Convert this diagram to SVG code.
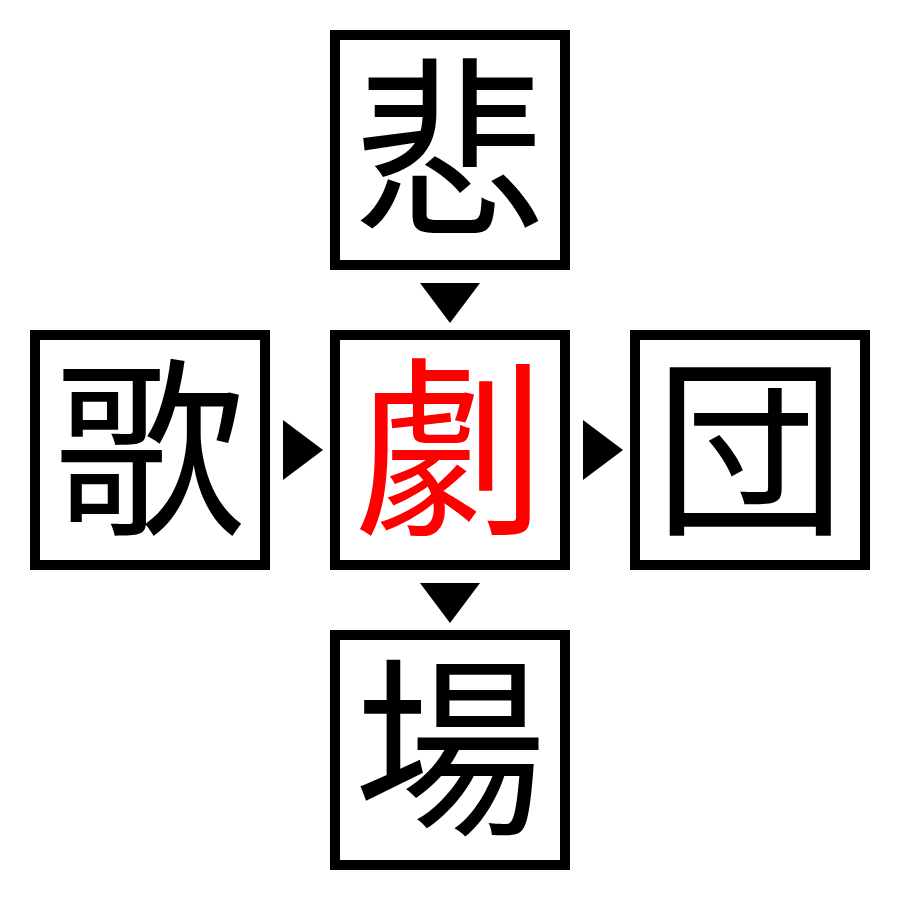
<svg xmlns="http://www.w3.org/2000/svg" width="900" height="900" viewBox="0 0 900 900">
<style>
.box{fill:#fff;stroke:#000;stroke-width:10}
.ch{font-family:"Liberation Serif","Noto Sans CJK JP",serif;font-size:192px;text-anchor:middle;dominant-baseline:central;fill:#000}
.red{fill:#ff0000}
.arr{fill:#000}
</style>
<rect width="900" height="900" fill="#fff"/>
<g id="connectors">
<polygon class="arr" points="420,283 480,283 450,323"/>
<polygon class="arr" points="283,420 283,480 323,450"/>
<polygon class="arr" points="583,420 583,480 623,450"/>
<polygon class="arr" points="420,583 480,583 450,623"/>
</g>
<g id="node-top"><rect class="box" x="335" y="35" width="230" height="230"/><text class="ch" x="450" y="155">悲</text></g>
<g id="node-left"><rect class="box" x="35" y="335" width="230" height="230"/><text class="ch" x="150" y="455">歌</text></g>
<g id="node-center"><rect class="box" x="335" y="335" width="230" height="230"/><text class="ch red" x="450" y="455">劇</text></g>
<g id="node-right"><rect class="box" x="635" y="335" width="230" height="230"/><text class="ch" x="750" y="455">団</text></g>
<g id="node-bottom"><rect class="box" x="335" y="635" width="230" height="230"/><text class="ch" x="450" y="755">場</text></g>
</svg>
